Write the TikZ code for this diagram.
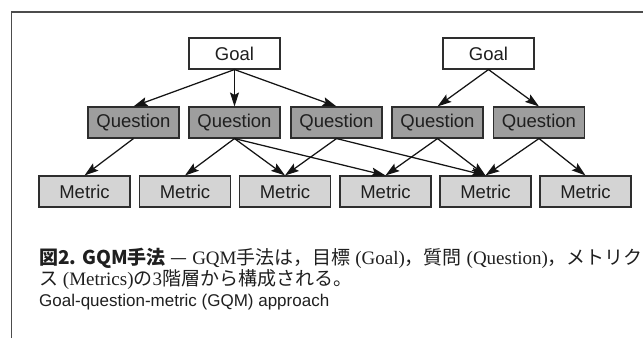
\documentclass[tikz,border=0pt]{standalone}
\usepackage{fontspec}
\setmainfont{Liberation Serif}
\setsansfont{Liberation Sans}
\newfontfamily\jp{Noto Sans CJK JP}
\newfontfamily\hv{Liberation Sans}
\usetikzlibrary{arrows.meta}
\definecolor{qfill}{gray}{0.62}
\definecolor{mfill}{gray}{0.83}
\definecolor{edgec}{gray}{0.18}
\definecolor{framec}{gray}{0.3}
\definecolor{txtc}{gray}{0.12}
\begin{document}
\begin{tikzpicture}[x=1pt,y=-1pt,
  box/.style={draw=edgec, line width=1.1pt, minimum width=91pt, minimum height=31pt,
    inner sep=0pt, font=\hv\fontsize{18.5}{18.5}\selectfont, text=txtc},
  goalbox/.style={box, fill=white},
  qbox/.style={box, fill=qfill},
  mbox/.style={box, fill=mfill},
  arr/.style={-{Stealth[length=14pt,width=9pt,inset=2.5pt]}, line width=1.25pt, draw=black!92},
  captext/.style={anchor=base west, inner sep=0pt, text=txtc, font=\fontsize{19}{22}\selectfont},
]
\useasboundingbox (0,0) rectangle (643,338);
\draw[line width=1.2pt, framec] (11.5,338) -- (11.5,12) -- (643,12);

\node[goalbox] (g1) at (234.5,53.5) {Goal};
\node[goalbox] (g2) at (488.5,53.5) {Goal};

\node[qbox] (q1) at (133.5,122.5) {Question};
\node[qbox] (q2) at (234.5,122.5) {Question};
\node[qbox] (q3) at (336.5,122.5) {Question};
\node[qbox] (q4) at (437.5,122.5) {Question};
\node[qbox] (q5) at (539,122.5) {Question};

\node[mbox] (m1) at (84.5,191.5) {Metric};
\node[mbox] (m2) at (185,191.5) {Metric};
\node[mbox] (m3) at (285,191.5) {Metric};
\node[mbox] (m4) at (385.5,191.5) {Metric};
\node[mbox] (m5) at (485.5,191.5) {Metric};
\node[mbox] (m6) at (585.5,191.5) {Metric};

\foreach \a/\b in {g1/q1,g1/q2,g1/q3,g2/q4,g2/q5,
                   q1/m1,q2/m2,q2/m3,q2/m4,q3/m3,q3/m5,q4/m4,q4/m5,q5/m5,q5/m6}
  \draw[arr] (\a.south) -- (\b.north);

\node[captext] (cap1) at (39,264) {{\jp\bfseries 図2. GQM手法} {\jp —} GQM{\jp 手法は，目標} (Goal){\jp ，質問} (Question){\jp ，メトリク}};
\node[captext] (cap2) at (39,285) {{\jp ス} (Metrics){\jp の}3{\jp 階層から構成される。}};
\node[captext, font=\hv\fontsize{17}{20}\selectfont] (cap3) at (39,306) {Goal-question-metric (GQM) approach};
\end{tikzpicture}
\end{document}
